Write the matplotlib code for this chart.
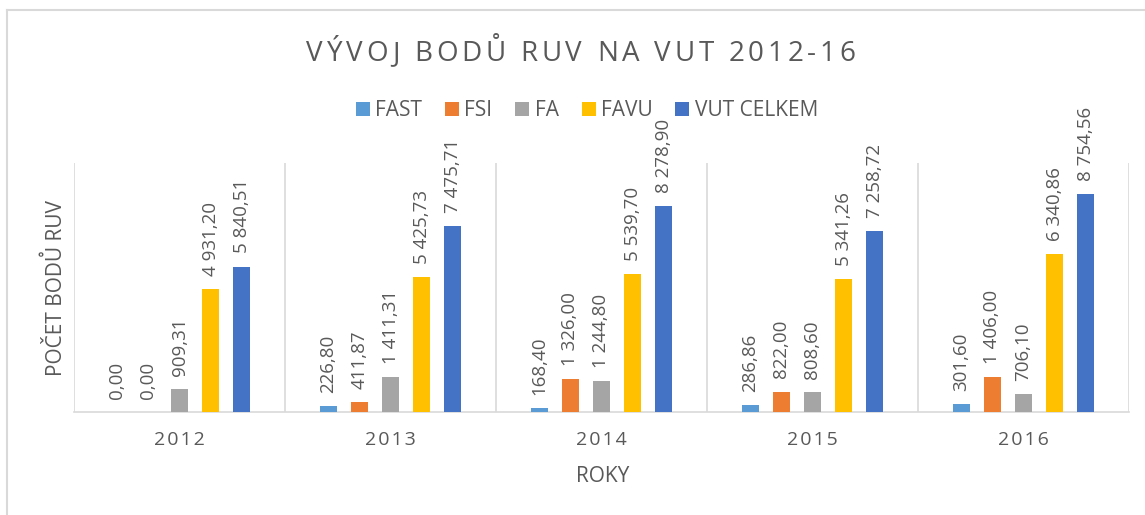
import matplotlib
matplotlib.use("Agg")
import matplotlib.pyplot as plt
from matplotlib.lines import Line2D
import numpy as np

plt.rcParams['font.family'] = ['Open Sans', 'DejaVu Sans']

# ---------------- data ----------------
years = ["2012", "2013", "2014", "2015", "2016"]
series_names = ["FAST", "FSI", "FA", "FAVU", "VUT CELKEM"]
fast = [0.00, 226.80, 168.40, 286.86, 301.60]
fsi = [0.00, 411.87, 1326.00, 822.00, 1406.00]
fa = [909.31, 1411.31, 1244.80, 808.60, 706.10]
favu = [4931.20, 5425.73, 5539.70, 5341.26, 6340.86]
vut_celkem = [5840.51, 7475.71, 8278.90, 7258.72, 8754.56]
colors = ["#5B9BD5", "#ED7D31", "#A5A5A5", "#FFC000", "#4472C4"]

title = "VÝVOJ BODŮ RUV NA VUT 2012-16"
xlabel = "ROKY"
ylabel = "POČET BODŮ RUV"

TXT = "#595959"
GRID = "#D9D9D9"
W, H = 1145, 515

def fmt(v):
    return f"{v:,.2f}".replace(",", " ").replace(".", ",")

fig = plt.figure(figsize=(W / 100, H / 100), dpi=100)
ax = fig.add_axes([74 / W, (H - 412) / H, (1129 - 74) / W, (412 - 163) / H])

data = [fast, fsi, fa, favu, vut_celkem]
x = np.arange(len(years))
step = 0.147
bw = 0.078
bars = []
for i, (vals, c, name) in enumerate(zip(data, colors, series_names)):
    b = ax.bar(x + (i - 2) * step, vals, width=bw, color=c, label=name, zorder=3)
    bars.append(b)
    for rect, v in zip(b, vals):
        ax.annotate(fmt(v), xy=(rect.get_x() + rect.get_width() / 2, rect.get_height()),
                    xytext=(0, 9.5), textcoords="offset points", rotation=90,
                    ha="center", va="bottom", fontsize=13.5, color=TXT,
                    annotation_clip=False)

ax.set_xlim(-0.5, len(years) - 0.5)
ax.set_ylim(0, 10000)
ax.set_yticks([])
for s in ["left", "right", "top"]:
    ax.spines[s].set_visible(False)
ax.spines["bottom"].set_color(GRID)
ax.spines["bottom"].set_linewidth(1.2)
for xv in np.arange(-0.5, len(years), 1.0):
    ax.axvline(xv, color=GRID, lw=1.2, zorder=1)

ax.set_xticks(x)
ax.set_xticklabels(["\u200a".join(y) for y in years])
ax.tick_params(axis="x", length=0, pad=14, labelsize=14, labelcolor=TXT)

ax.set_xlabel(xlabel, fontsize=15, color=TXT)
ax.xaxis.label.set_va("center")
ax.xaxis.set_label_coords(0.501, -0.261)
ax.set_ylabel(ylabel, fontsize=15, color=TXT)
ax.yaxis.label.set_va("center")
ax.yaxis.label.set_ha("center")
ax.yaxis.set_label_coords(-0.0175, 0.496)

# legend
fig.legend(handles=bars, labels=series_names, loc="center",
           bbox_to_anchor=(587 / W, 1 - 111 / H), ncol=5, frameon=False,
           fontsize=15, handlelength=0.67, handleheight=0.67,
           handletextpad=0.25, columnspacing=1.1, labelcolor=TXT)

# title with letter spacing
renderer = fig.canvas.get_renderer()
def text_width(s, fs):
    t = fig.text(0, 0, s + "|", fontsize=fs)
    w1 = t.get_window_extent(renderer).width
    t.remove()
    t = fig.text(0, 0, "|", fontsize=fs)
    w2 = t.get_window_extent(renderer).width
    t.remove()
    return w1 - w2

def spaced_text(s, cx, cy, fs, spacing, color):
    total = text_width(s, fs) + spacing * (len(s) - 1)
    x0 = cx - total / 2
    for i, ch in enumerate(s):
        if ch == " ":
            continue
        xp = x0 + text_width(s[:i], fs) + i * spacing
        fig.text(xp / W, 1 - cy / H, ch, fontsize=fs, color=color,
                 ha="left", va="baseline")

spaced_text(title, 581, 61, 20, 3.8, TXT)

# chart border
fig.add_artist(Line2D([7 / W, 7 / W], [0, 1 - 10 / H], color=GRID, lw=1.5,
                      transform=fig.transFigure))
fig.add_artist(Line2D([7 / W, 1], [1 - 10 / H, 1 - 10 / H], color=GRID, lw=1.5,
                      transform=fig.transFigure))

fig.savefig("out.png", dpi=100)
